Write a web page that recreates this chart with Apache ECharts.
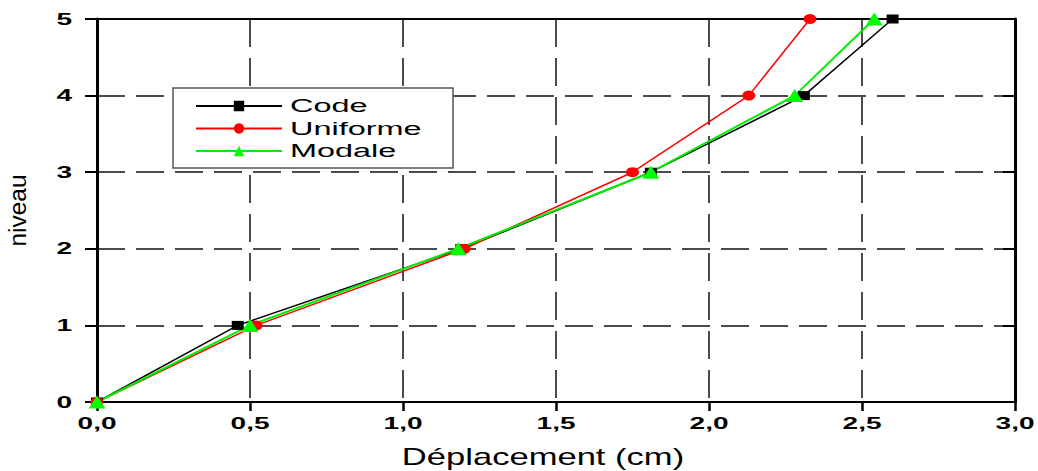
<!DOCTYPE html>
<html>
<head>
<meta charset="utf-8">
<script src="https://cdn.jsdelivr.net/npm/echarts@6/dist/echarts.min.js"></script>
<style>
  html, body { margin: 0; padding: 0; background: #fff; }
  #chart { width: 1038px; height: 471px; }
</style>
</head>
<body>
<div id="chart"></div>
<script>
// Storey levels and lateral displacement (cm) for each load pattern
const niveaux = [0, 1, 2, 3, 4, 5];
const code = [0, 0.46, 1.19, 1.81, 2.31, 2.60];
const uniforme = [0, 0.52, 1.20, 1.75, 2.13, 2.33];
const modale = [0, 0.50, 1.18, 1.81, 2.28, 2.54];

const pairs = (xs) => xs.map((x, i) => [x, niveaux[i]]);
const FONT = '"Liberation Sans", Arial, sans-serif';

const chart = echarts.init(document.getElementById('chart'), null, { renderer: 'svg' });

const dashedGrid = { show: true, lineStyle: { color: '#111', type: [28, 11], width: 1.5 } };

chart.setOption({
  animation: false,
  backgroundColor: '#fff',
  grid: { left: 97, right: 23, top: 19, bottom: 69, containLabel: false, outerBoundsMode: 'none' },
  legend: {
    left: 173, top: 88,
    orient: 'vertical',
    itemWidth: 86, itemHeight: 13, itemGap: 4.5,
    padding: [9, 90, 8, 22],
    borderColor: '#555', borderWidth: 1.5,
    backgroundColor: '#fff',
    textStyle: { fontFamily: FONT, fontSize: 18, lineHeight: 16, color: '#000', padding: [0, 0, 0, 3] },
    data: ['Code', 'Uniforme', 'Modale']
  },
  xAxis: [{
    type: 'value', min: 0, max: 3, interval: 0.5,
    name: 'Déplacement (cm)', nameLocation: 'middle', nameGap: 42,
    nameTextStyle: { fontFamily: FONT, fontSize: 24, color: '#000', padding: [0, 26, 0, 0] },
    axisLine: { show: true, onZero: false, lineStyle: { color: '#000', width: 2 } },
    axisTick: { show: true, inside: false, length: 9, lineStyle: { color: '#000', width: 2.5 } },
    axisLabel: {
      fontFamily: FONT, fontSize: 16, fontWeight: 'bold', color: '#000', margin: 13,
      formatter: v => v.toFixed(1).replace('.', ',')
    },
    splitLine: dashedGrid
  }, {
    type: 'value', position: 'top', min: 0, max: 3, interval: 0.5,
    axisLine: { show: true, onZero: false, lineStyle: { color: '#000', width: 2 } },
    axisTick: { show: false }, axisLabel: { show: false }, splitLine: { show: false }
  }],
  yAxis: [{
    type: 'value', min: 0, max: 5, interval: 1,
    name: 'niveau', nameLocation: 'middle', nameGap: 68, nameRotate: 90,
    nameTextStyle: { fontFamily: FONT, fontSize: 23, color: '#000' },
    axisLine: { show: true, onZero: false, lineStyle: { color: '#000', width: 3 } },
    axisTick: { show: true, inside: false, length: 12, lineStyle: { color: '#000', width: 2 } },
    axisLabel: { fontFamily: FONT, fontSize: 16, fontWeight: 'bold', color: '#000', margin: 25 },
    splitLine: dashedGrid
  }, {
    type: 'value', position: 'right', min: 0, max: 5, interval: 1,
    axisLine: { show: true, onZero: false, lineStyle: { color: '#000', width: 3 } },
    axisTick: { show: true, inside: true, length: 12, lineStyle: { color: '#000', width: 2 } },
    axisLabel: { show: false }, splitLine: { show: false }
  }],
  series: [{
    name: 'Code', type: 'line', data: pairs(code),
    symbol: 'rect', symbolSize: [12, 9], showAllSymbol: true,
    itemStyle: { color: '#000' }, lineStyle: { color: '#000', width: 1.5 }
  }, {
    name: 'Uniforme', type: 'line', data: pairs(uniforme),
    symbol: 'circle', symbolSize: [13, 10], showAllSymbol: true,
    itemStyle: { color: '#ff0000' }, lineStyle: { color: '#ff0000', width: 1.5 }
  }, {
    name: 'Modale', type: 'line', data: pairs(modale),
    symbol: 'triangle', symbolSize: [17, 13], showAllSymbol: true,
    itemStyle: { color: '#00ff00' }, lineStyle: { color: '#00ee00', width: 2 }
  }]
});

// Widen the lettering: the chart's typography uses broad, stretched glyphs.
// Horizontal text is stretched; the rotated axis title is squeezed along its baseline.
function stretchText() {
  document.querySelectorAll('#chart svg text').forEach(t => {
    if (t.dataset.stretched) return;
    const size = parseFloat(getComputedStyle(t).fontSize);
    const len = t.getComputedTextLength();
    if (!len) return;
    let target;
    if (size === 23) target = 72;
    else if (size === 24) target = len * 1.44;
    else if (size === 18) target = len * 1.8;
    else target = len * 1.75;
    t.setAttribute('textLength', target.toFixed(1));
    t.setAttribute('lengthAdjust', 'spacingAndGlyphs');
    t.dataset.stretched = '1';
  });
}
stretchText();
chart.on('finished', stretchText);
</script>
</body>
</html>
